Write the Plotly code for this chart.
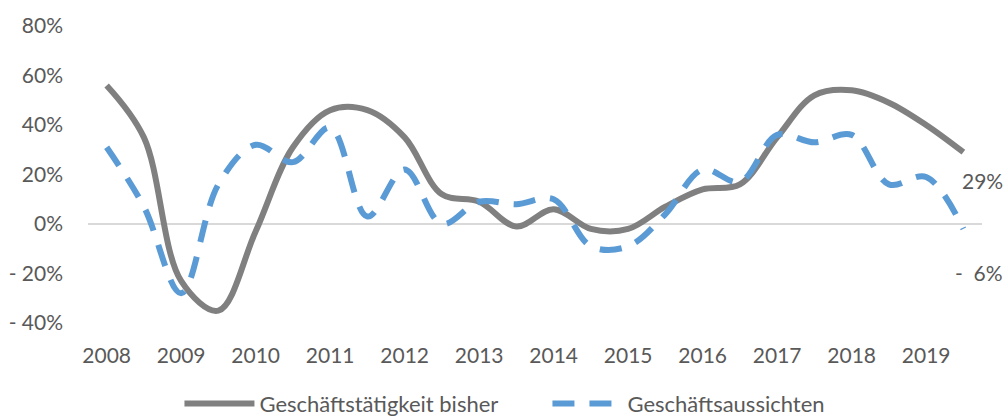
import plotly.graph_objects as go

years = [str(y) for y in range(2008, 2020)]
periods = [f"{y} H{h}" for y in range(2008, 2020) for h in (1, 2)]

geschaeftstaetigkeit = [56, 35, -23, -35, -3, 31, 46, 46, 35, 12, 9, -1,
                        6, -2, -2, 7, 14, 16, 35, 52, 54, 49, 40, 29]
geschaeftsaussichten = [31, 7, -28, 16, 32, 25, 39, 3, 22, 0, 9, 8,
                        10, -9, -9, 4, 22, 17, 36, 33, 36, 16, 19, -2]

y_ticks = [-40, -20, 0, 20, 40, 60, 80]
y_ticktext = ["- 40%", "- 20%", "0%", "20%", "40%", "60%", "80%"]
end_labels = ["29%", "-  6%"]

FONT = "Lato"
TXT = "#595959"

x_idx = list(range(len(periods)))

fig = go.Figure()
fig.add_trace(go.Scatter(
    x=x_idx, y=geschaeftstaetigkeit, mode="lines", name="Geschäftstätigkeit bisher",
    line=dict(color="#808080", width=6, shape="spline", smoothing=1.0),
    hovertext=periods,
))
fig.add_trace(go.Scatter(
    x=x_idx, y=geschaeftsaussichten, mode="lines", name="Geschäftsaussichten",
    line=dict(color="#5B9BD5", width=6, shape="spline", smoothing=1.0, dash="22px,15px"),
    hovertext=periods,
))

fig.add_annotation(xref="paper", x=1.0257, y=geschaeftstaetigkeit[-1], text=end_labels[0],
                   showarrow=False, xanchor="right", yanchor="middle", yshift=-28,
                   font=dict(family=FONT, size=21, color=TXT))
fig.add_annotation(xref="paper", x=1.0257, y=geschaeftsaussichten[-1], text=end_labels[1],
                   showarrow=False, xanchor="right", yanchor="middle", yshift=-44,
                   font=dict(family=FONT, size=21, color=TXT))

fig.update_layout(
    width=1007, height=417,
    margin=dict(l=88, r=25, t=26, b=94, autoexpand=False),
    paper_bgcolor="white", plot_bgcolor="white",
    font=dict(family=FONT, size=21, color=TXT),
    showlegend=True,
    legend=dict(orientation="h", xanchor="left", x=0.1023, yanchor="middle", y=-0.272,
                font=dict(family=FONT, size=22, color=TXT), itemwidth=70,
                entrywidth=283, entrywidthmode="pixels",
                bgcolor="rgba(0,0,0,0)"),
    hovermode=False,
)
fig.update_xaxes(
    range=[-0.5, len(periods) - 0.5],
    tickvals=list(range(0, len(periods), 2)), ticktext=years,
    showgrid=False, zeroline=False, showline=False, ticks="",
    ticklabelstandoff=18,
    tickfont=dict(family=FONT, size=21, color=TXT),
)
fig.update_yaxes(
    range=[-40, 80], tickvals=y_ticks, ticktext=y_ticktext,
    showgrid=False, zeroline=True, zerolinecolor="#D9D9D9", zerolinewidth=1.5,
    showline=False, ticks="", ticklabelstandoff=24,
    tickfont=dict(family=FONT, size=21, color=TXT),
)

fig.write_html(
    "out.html",
    config={"displayModeBar": False},
    post_script="document.body.style.margin='0';document.body.style.overflow='hidden';",
)
